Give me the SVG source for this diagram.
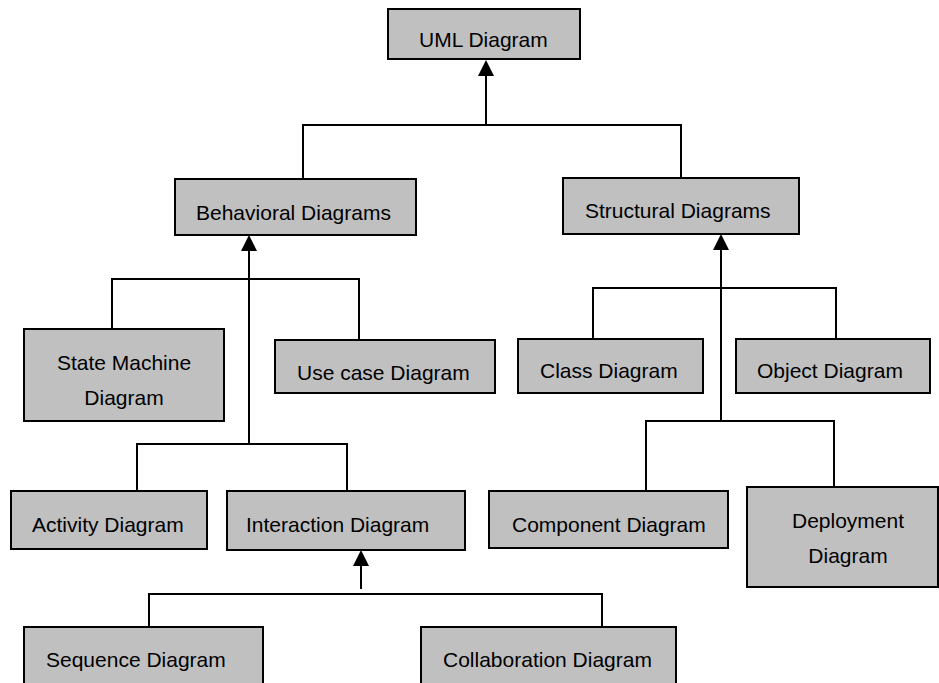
<svg xmlns="http://www.w3.org/2000/svg" width="939" height="683" viewBox="0 0 939 683">
  <style>
    .box { fill: #c0c0c0; stroke: #000; stroke-width: 2; }
    .lbl { font-family: "Liberation Sans", Arial, sans-serif; font-size: 21px; fill: #000; }
    .mid { text-anchor: middle; }
    .wire { fill: none; stroke: #000; stroke-width: 2; }
  </style>
  <defs>
    <marker id="head" viewBox="0 0 16 16" refX="6" refY="8" markerWidth="16" markerHeight="16" markerUnits="userSpaceOnUse" orient="auto">
      <path d="M0,0 L16,8 L0,16 z" fill="#000"/>
    </marker>
  </defs>
  <rect width="939" height="683" fill="#fff"/>

  <!-- connectors -->
  <g id="connectors">
    <!-- UML Diagram generalization -->
    <path class="wire" d="M486,125 V70" marker-end="url(#head)"/>
    <path class="wire" d="M303,179 V125 H681 V178"/>
    <!-- Behavioral Diagrams tree -->
    <path class="wire" d="M249,444 V245" marker-end="url(#head)"/>
    <path class="wire" d="M112,329 V279 H359 V340"/>
    <path class="wire" d="M137,491 V444 H347 V491"/>
    <!-- Interaction Diagram tree -->
    <path class="wire" d="M361,589 V560" marker-end="url(#head)"/>
    <path class="wire" d="M149,627 V594 H602 V627"/>
    <!-- Structural Diagrams tree -->
    <path class="wire" d="M721,421 V244" marker-end="url(#head)"/>
    <path class="wire" d="M593,339 V288 H836 V339"/>
    <path class="wire" d="M646,491 V421 H834 V487"/>
  </g>

  <g id="uml">
    <rect class="box" x="388" y="9" width="192" height="50"/>
    <text class="lbl" x="419" y="47">UML Diagram</text>
  </g>

  <g id="behavioral">
    <rect class="box" x="175" y="179" width="241" height="56"/>
    <text class="lbl" x="196" y="220">Behavioral Diagrams</text>
  </g>

  <g id="structural">
    <rect class="box" x="563" y="178" width="236" height="56"/>
    <text class="lbl" x="585" y="218">Structural Diagrams</text>
  </g>

  <g id="state-machine">
    <rect class="box" x="24" y="329" width="200" height="92"/>
    <text class="lbl mid" x="124" y="370">State Machine</text>
    <text class="lbl mid" x="124" y="405">Diagram</text>
  </g>

  <g id="use-case">
    <rect class="box" x="275" y="340" width="220" height="53"/>
    <text class="lbl" x="297" y="380">Use case Diagram</text>
  </g>

  <g id="class">
    <rect class="box" x="518" y="339" width="185" height="54"/>
    <text class="lbl" x="540" y="378">Class Diagram</text>
  </g>

  <g id="object">
    <rect class="box" x="736" y="339" width="194" height="54"/>
    <text class="lbl" x="757" y="378">Object Diagram</text>
  </g>

  <g id="activity">
    <rect class="box" x="11" y="491" width="196" height="58"/>
    <text class="lbl" x="32" y="532">Activity Diagram</text>
  </g>

  <g id="interaction">
    <rect class="box" x="227" y="491" width="238" height="59"/>
    <text class="lbl" x="246" y="532">Interaction Diagram</text>
  </g>

  <g id="component">
    <rect class="box" x="489" y="491" width="239" height="57"/>
    <text class="lbl" x="512" y="532">Component Diagram</text>
  </g>

  <g id="deployment">
    <rect class="box" x="747" y="487" width="191" height="100"/>
    <text class="lbl mid" x="848" y="528">Deployment</text>
    <text class="lbl mid" x="848" y="563">Diagram</text>
  </g>

  <g id="sequence">
    <rect class="box" x="24" y="627" width="239" height="70"/>
    <text class="lbl" x="46" y="667">Sequence Diagram</text>
  </g>

  <g id="collaboration">
    <rect class="box" x="421" y="627" width="255" height="70"/>
    <text class="lbl" x="443" y="667">Collaboration Diagram</text>
  </g>
</svg>
